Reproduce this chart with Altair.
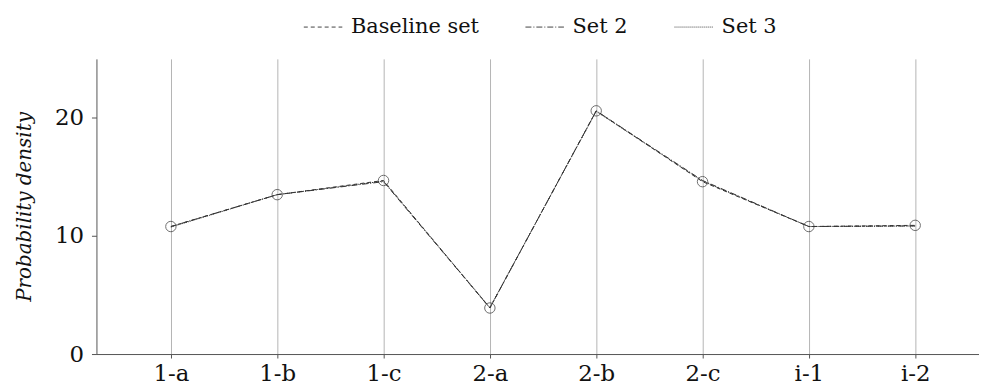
import json
import altair as alt
import pandas as pd

categories = ["1-a", "1-b", "1-c", "2-a", "2-b", "2-c", "i-1", "i-2"]
series_names = ["Baseline set", "Set 2", "Set 3"]
baseline = [10.8, 13.5, 14.7, 3.9, 20.6, 14.6, 10.8, 10.9]
set2 = [10.8, 13.5, 14.6, 3.9, 20.6, 14.7, 10.8, 10.85]
set3 = [10.75, 13.5, 14.65, 3.95, 20.55, 14.65, 10.8, 10.85]

rows = []
for name, vals in zip(series_names, [baseline, set2, set3]):
    for i, (c, v) in enumerate(zip(categories, vals)):
        rows.append({"series": name, "idx": i, "cat": c, "value": v})
df = pd.DataFrame(rows)

label_expr = json.dumps(categories) + "[datum.value]"
font = "DejaVu Serif"

x = alt.X("idx:Q", scale=alt.Scale(domain=[-0.7, 7.6], nice=False, zero=False),
          axis=alt.Axis(values=list(range(len(categories))), labelExpr=label_expr,
                        title=None, grid=True, gridColor="#b4b4b4", gridWidth=1,
                        domainColor="#555555", tickColor="#555555", tickSize=4,
                        labelFont=font, labelFontSize=23, labelColor="#111111",
                        labelPadding=5))
y = alt.Y("value:Q", scale=alt.Scale(domain=[0, 25], nice=False),
          axis=alt.Axis(values=[0, 10, 20], title="Probability density", grid=False,
                        domainColor="#555555", tickColor="#555555", tickSize=5,
                        labelFont=font, labelFontSize=23, labelColor="#111111",
                        labelPadding=8, titleFont=font, titleFontSize=20,
                        titleFontStyle="italic", titleFontWeight="normal",
                        titleColor="#111111", titlePadding=20))

lines = alt.Chart(df).mark_line(strokeWidth=1, color="#333333").encode(
    x=x, y=y,
    strokeDash=alt.StrokeDash("series:N",
        scale=alt.Scale(domain=series_names, range=[[4, 3], [6, 2, 1, 2], [1, 1]]),
        legend=alt.Legend(title=None, orient="none", legendX=208, legendY=-52,
                          direction="horizontal", symbolType="stroke",
                          symbolStrokeColor="#444444", symbolStrokeWidth=1,
                          symbolSize=1500, labelFont=font, labelFontSize=21,
                          labelColor="#111111", columnPadding=44, labelOffset=8)),
    detail="series:N",
)

points = alt.Chart(df[df["series"] == "Baseline set"]).mark_point(
    shape="circle", filled=False, size=110, strokeWidth=1, color="#333333"
).encode(x=x, y=y)

chart = alt.layer(lines, points).properties(
    width=888, height=297,
    autosize=alt.AutoSizeParams(type="none"),
    padding={"left": 89, "top": 50, "right": 0, "bottom": 37},
).configure_view(stroke=None)

chart.save("out.html", embed_options={"renderer": "svg", "actions": False})
